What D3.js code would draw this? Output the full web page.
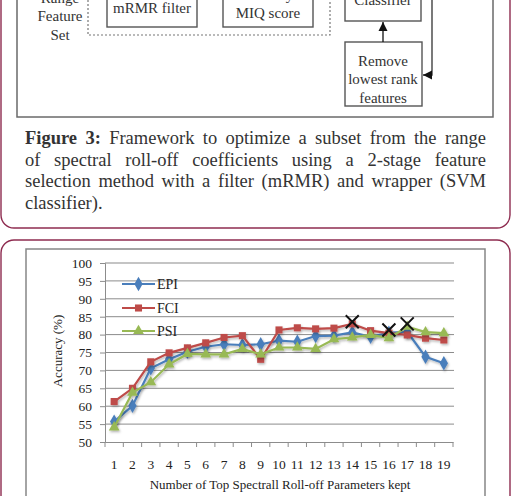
<!DOCTYPE html>
<html>
<head>
<meta charset="utf-8">
<script src="https://cdn.jsdelivr.net/npm/d3@7"></script>
<style>
  body { margin: 0; background: #fff; }
  svg { display: block; }
</style>
</head>
<body>
<script>
// chart data
var categories = d3.range(1, 20);
var yTicks = [50, 55, 60, 65, 70, 75, 80, 85, 90, 95, 100];
var epi = [55.7, 60.1, 70.6, 73.1, 75.2, 76.6, 77.3, 77.1, 77.3, 78.3, 78.0, 79.6, 79.7, 80.6, 79.4, 80.5, 80.8, 73.8, 72.0];
var fci = [61.3, 65.0, 72.4, 74.9, 76.3, 77.7, 79.2, 79.7, 73.1, 81.3, 81.9, 81.6, 81.8, 83.0, 81.1, 80.4, 79.9, 79.0, 78.5];
var psi = [54.1, 63.8, 66.7, 71.7, 74.6, 74.5, 74.5, 76.0, 74.5, 76.4, 76.4, 76.0, 78.7, 79.2, 79.9, 79.0, 82.2, 80.7, 80.4];
var bestIdx = [14, 16, 17];
var bestVal = [83.6, 81.3, 83.0];

var seriesNames = ["EPI", "FCI", "PSI"];
var seriesColors = ["#4a7ebb", "#be4b48", "#98b954"];
var seriesSymbols = [d3.symbolDiamond, d3.symbolSquare, d3.symbolTriangle];
var seriesValues = [epi, fci, psi];

var captionLines = [
  "Framework to optimize a subset from the range",
  "of spectral roll-off coefficients using a 2-stage feature",
  "selection method with a filter (mRMR) and wrapper (SVM",
  "classifier)."
];

var W = 513, H = 496;
var maroon = "#8e2c50";
var serif = "'Liberation Serif', 'Times New Roman', serif";

var svg = d3.select("body").append("svg")
    .attr("width", W)
    .attr("height", H);

var defs = svg.append("defs");
defs.append("marker")
    .attr("id", "arrow")
    .attr("viewBox", "0 0 10 10")
    .attr("refX", 10).attr("refY", 5)
    .attr("markerWidth", 7).attr("markerHeight", 7)
    .attr("orient", "auto-start-reverse")
  .append("path")
    .attr("d", "M0,0L10,5L0,10Z")
    .attr("fill", "#111");
defs.append("filter")
    .attr("id", "shadow")
    .attr("x", "-20%").attr("y", "-20%").attr("width", "140%").attr("height", "140%")
  .append("feDropShadow")
    .attr("dx", 1).attr("dy", 1.5).attr("stdDeviation", 1)
    .attr("flood-color", "#000").attr("flood-opacity", 0.3);

// ---------- top card (figure 3, cut off by the page edge) ----------
svg.append("rect")
    .attr("x", 1).attr("y", -300).attr("width", 509).attr("height", 528)
    .attr("rx", 13)
    .attr("fill", "#fff").attr("stroke", maroon).attr("stroke-width", 1.4);

var diag = svg.append("g").attr("font-family", serif);
diag.append("rect")
    .attr("x", 17).attr("y", -20).attr("width", 476).attr("height", 137)
    .attr("fill", "none").attr("stroke", "#6a6a6a").attr("stroke-width", 1.5);

diag.append("rect")
    .attr("x", 88).attr("y", -20).attr("width", 242).attr("height", 55)
    .attr("fill", "none").attr("stroke", "#777").attr("stroke-width", 1.2)
    .attr("stroke-dasharray", "2,2");

var boxes = [
  { x: 107, y: -20, w: 90, h: 47 },
  { x: 223, y: -20, w: 90, h: 47 },
  { x: 345, y: -20, w: 76, h: 41 },
  { x: 345, y: 42, w: 77, h: 64 }
];
diag.selectAll("rect.box").data(boxes).enter().append("rect")
    .attr("class", "box")
    .attr("x", function(d) { return d.x; })
    .attr("y", function(d) { return d.y; })
    .attr("width", function(d) { return d.w; })
    .attr("height", function(d) { return d.h; })
    .attr("fill", "#fff").attr("stroke", "#555").attr("stroke-width", 1.4);

var diagText = [
  { x: 60, y: 3, t: "Range" }, { x: 60, y: 21, t: "Feature" }, { x: 60, y: 40, t: "Set" },
  { x: 152, y: 13, t: "mRMR filter" },
  { x: 268, y: 0, t: "Rank by" }, { x: 268, y: 18, t: "MIQ score" },
  { x: 383, y: 5, t: "Classifier" },
  { x: 383, y: 66, t: "Remove" }, { x: 383, y: 84, t: "lowest rank" }, { x: 383, y: 103, t: "features" }
];
diag.selectAll("text").data(diagText).enter().append("text")
    .attr("x", function(d) { return d.x; })
    .attr("y", function(d) { return d.y; })
    .attr("text-anchor", "middle")
    .attr("font-size", 15)
    .attr("fill", "#333")
    .text(function(d) { return d.t; });

diag.append("line")
    .attr("x1", 383).attr("y1", 42).attr("x2", 383).attr("y2", 22)
    .attr("stroke", "#111").attr("stroke-width", 1.3)
    .attr("marker-end", "url(#arrow)");
diag.append("path")
    .attr("d", "M432,-20V75H423")
    .attr("fill", "none").attr("stroke", "#333").attr("stroke-width", 1.3)
    .attr("marker-end", "url(#arrow)");

// caption, justified word by word
var cap = svg.append("g").attr("font-family", serif).attr("fill", "#333").attr("font-size", 18.5);
var capLeft = 25, capRight = 486, capY0 = 144, capLh = 21.5;
captionLines.forEach(function(line, i) {
  var items = line.split(" ").map(function(w) { return { t: w, bold: false }; });
  if (i === 0) items = [{ t: "Figure", bold: true }, { t: "3:", bold: true }].concat(items);
  var nodes = items.map(function(it) {
    return cap.append("text")
        .attr("y", capY0 + i * capLh)
        .attr("font-weight", it.bold ? "bold" : "normal")
        .text(it.t);
  });
  var widths = nodes.map(function(n) { return n.node().getComputedTextLength(); });
  var total = d3.sum(widths);
  var gap = (i < captionLines.length - 1) ? (capRight - capLeft - total) / (nodes.length - 1) : 4.5;
  var xx = capLeft;
  nodes.forEach(function(n, k) { n.attr("x", xx); xx += widths[k] + gap; });
});

// ---------- bottom card with the chart ----------
svg.append("rect")
    .attr("x", 1).attr("y", 240).attr("width", 509).attr("height", 400)
    .attr("rx", 13)
    .attr("fill", "#fff").attr("stroke", maroon).attr("stroke-width", 1.4);

svg.append("rect")
    .attr("x", 26).attr("y", 249).attr("width", 459).attr("height", 300)
    .attr("fill", "#fff").attr("stroke", "#868686").attr("stroke-width", 1.5);

var plot = { left: 105, right: 453, top: 263, bottom: 442 };

var x = d3.scaleBand()
    .domain(categories)
    .range([plot.left, plot.right])
    .padding(0);
var y = d3.scaleLinear()
    .domain([50, 100])
    .range([plot.bottom, plot.top]);
var cx = function(i) { return x(categories[i]) + x.bandwidth() / 2; };

var chart = svg.append("g").attr("font-family", serif);

// gridlines
chart.append("g").selectAll("line").data(yTicks.slice(1)).enter().append("line")
    .attr("x1", plot.left).attr("x2", plot.right + 1)
    .attr("y1", function(d) { return y(d); })
    .attr("y2", function(d) { return y(d); })
    .attr("stroke", function(d) { return d === 100 ? "#c4c4c4" : "#8c8c8c"; })
    .attr("stroke-width", function(d) { return d === 100 ? 2 : 1; });

// y axis
var yAxis = chart.append("g")
    .attr("transform", "translate(" + plot.left + ",0)")
    .call(d3.axisLeft(y).tickValues(yTicks).tickSize(5).tickPadding(8));
yAxis.attr("font-family", serif);
yAxis.select(".domain").attr("stroke", "#8c8c8c");
yAxis.selectAll(".tick line").attr("stroke", "#8c8c8c");
yAxis.selectAll("text").attr("font-size", 13.5).attr("fill", "#222");

// x axis
var xAxis = chart.append("g")
    .attr("transform", "translate(0," + plot.bottom + ")")
    .call(d3.axisBottom(x).tickSize(0).tickPadding(17.5));
xAxis.attr("font-family", serif);
xAxis.select(".domain").attr("stroke", "#8c8c8c");
xAxis.selectAll("text").attr("font-size", 13.5).attr("fill", "#222");
chart.append("g").selectAll("line")
    .data(categories.concat([null])).enter().append("line")
    .attr("x1", function(d, i) { return plot.left + i * x.bandwidth(); })
    .attr("x2", function(d, i) { return plot.left + i * x.bandwidth(); })
    .attr("y1", plot.bottom).attr("y2", plot.bottom + 5)
    .attr("stroke", "#8c8c8c");

// axis titles
chart.append("text")
    .attr("x", 280).attr("y", 489)
    .attr("text-anchor", "middle")
    .attr("font-size", 13).attr("fill", "#222")
    .text("Number of Top Spectrall Roll-off Parameters kept");
chart.append("text")
    .attr("transform", "translate(61.5,351) rotate(-90)")
    .attr("text-anchor", "middle")
    .attr("font-size", 13).attr("fill", "#222")
    .text("Accuracy (%)");

// series
var line = d3.line()
    .x(function(d, i) { return cx(i); })
    .y(function(d) { return y(d); });

seriesValues.forEach(function(vals, s) {
  var g = chart.append("g").attr("filter", "url(#shadow)");
  g.append("path")
      .datum(vals)
      .attr("d", line)
      .attr("fill", "none")
      .attr("stroke", seriesColors[s])
      .attr("stroke-width", 2.2);
  g.selectAll("path.pt").data(vals).enter().append("path")
      .attr("class", "pt")
      .attr("d", d3.symbol().type(seriesSymbols[s]).size(s === 0 ? 60 : 50))
      .attr("transform", function(d, i) { return "translate(" + cx(i) + "," + y(d) + ")"; })
      .attr("fill", seriesColors[s]);
});

// best-point crosses
var crossR = 6.5;
chart.append("g").selectAll("path").data(bestIdx).enter().append("path")
    .attr("d", function(c, k) {
      var px = cx(c - 1), py = y(bestVal[k]);
      return "M" + (px - crossR) + "," + (py - crossR) + "L" + (px + crossR) + "," + (py + crossR) +
             "M" + (px - crossR) + "," + (py + crossR) + "L" + (px + crossR) + "," + (py - crossR);
    })
    .attr("stroke", "#111").attr("stroke-width", 2).attr("fill", "none");

// legend
var legendY = [284, 308, 331];
var leg = chart.append("g");
seriesNames.forEach(function(name, s) {
  var g = leg.append("g").attr("transform", "translate(0," + legendY[s] + ")");
  g.append("line")
      .attr("x1", 122).attr("x2", 155)
      .attr("stroke", seriesColors[s]).attr("stroke-width", 2.2);
  g.append("path")
      .attr("d", d3.symbol().type(seriesSymbols[s]).size(s === 0 ? 60 : 50))
      .attr("transform", "translate(138.5,0)")
      .attr("fill", seriesColors[s]);
  g.append("text")
      .attr("x", 157).attr("y", 4.8)
      .attr("font-size", 14).attr("fill", "#222")
      .text(name);
});
</script>
</body>
</html>
